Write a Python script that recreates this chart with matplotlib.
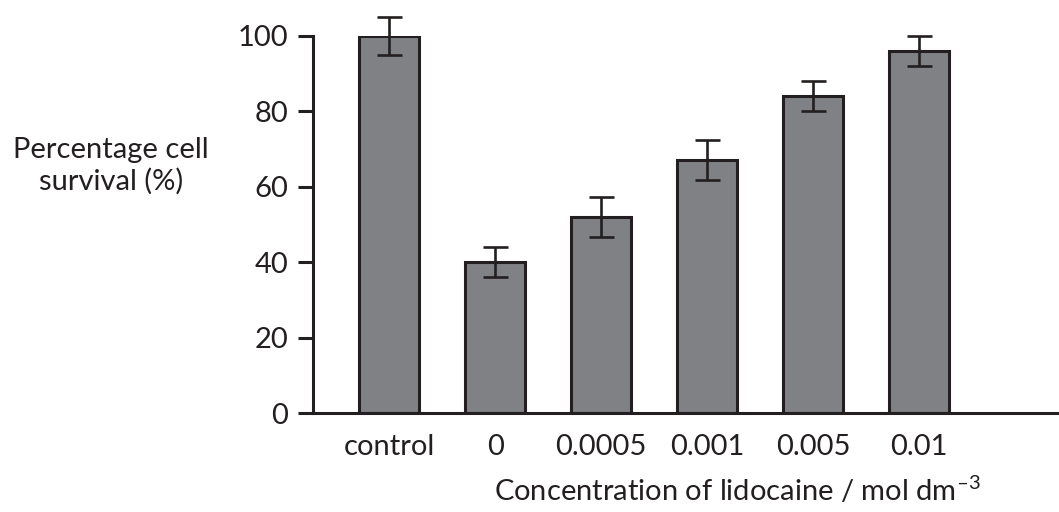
import matplotlib
matplotlib.use("Agg")
import matplotlib.pyplot as plt
import numpy as np

categories = ["control", "0", "0.0005", "0.001", "0.005", "0.01"]
survival = [100, 40, 52, 67, 84, 96]
errors = [5, 4, 5.3, 5.3, 4, 4]
y_ticks = [0, 20, 40, 60, 80, 100]

INK = "#231f20"
BAR = "#808185"

plt.rcParams["font.family"] = ["Lato", "DejaVu Sans"]
plt.rcParams["mathtext.fontset"] = "custom"
plt.rcParams["mathtext.rm"] = "Lato"
plt.rcParams["text.color"] = INK

fig = plt.figure(figsize=(10.59, 5.12), dpi=100)
ax = fig.add_axes([313 / 1059, 99 / 512, 746 / 1059, 377 / 512])

x = np.arange(len(categories))
ax.bar(x, survival, width=0.57, color=BAR, edgecolor=INK, linewidth=2.2, zorder=2)
ax.errorbar(x, survival, yerr=errors, fmt="none", ecolor=INK, elinewidth=1.9,
            capsize=9, capthick=1.9, clip_on=False, zorder=3)

ax.set_xlim(-0.72, 6.32)
ax.set_ylim(0, 100)
ax.set_xticks(x)
ax.set_xticklabels(categories, fontsize=21, color=INK)
ax.set_yticks(y_ticks)
ax.set_yticklabels([str(t) for t in y_ticks], fontsize=21, color=INK)
ax.tick_params(axis="x", length=0, pad=15)
ax.tick_params(axis="y", length=11, width=2.2, color=INK, pad=7)

for side in ["top", "right"]:
    ax.spines[side].set_visible(False)
for side in ["left", "bottom"]:
    ax.spines[side].set_linewidth(2.2)
    ax.spines[side].set_color(INK)

fig.text(111 / 1059, 1 - 166 / 512, "Percentage cell\nsurvival (%)", ha="center",
         va="center", fontsize=21, linespacing=1.25)
fig.text(737 / 1059, 1 - 490 / 512, "Concentration of lidocaine / mol dm$^{\u2013 3}$",
         ha="center", va="center", fontsize=21)

fig.savefig("out.png", dpi=100)
